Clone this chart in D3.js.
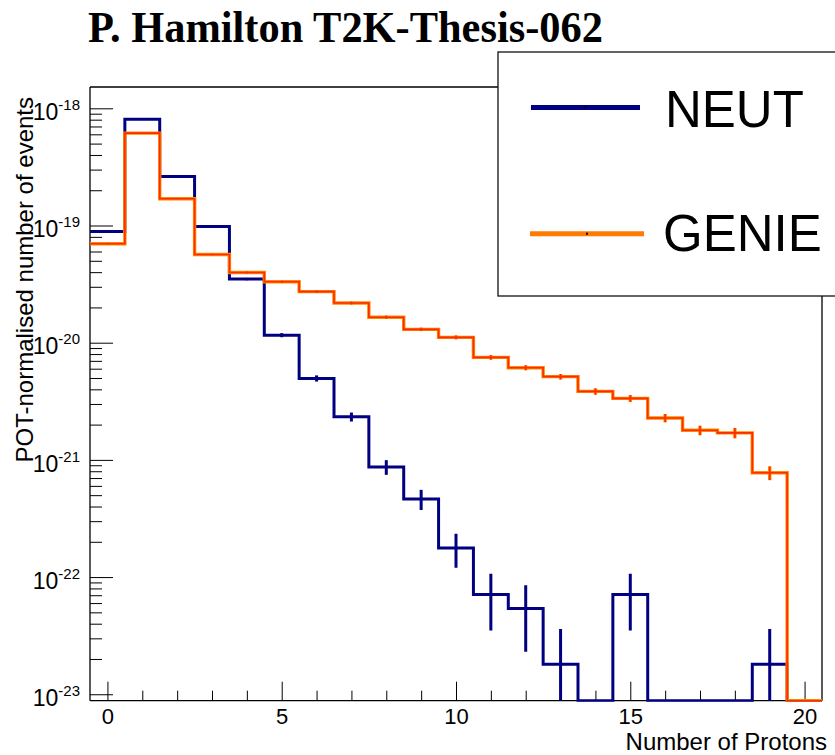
<!DOCTYPE html>
<html>
<head>
<meta charset="utf-8">
<script src="https://cdn.jsdelivr.net/npm/d3@7"></script>
<style>
  html, body { margin: 0; padding: 0; background: #fff; }
  svg { display: block; }
</style>
</head>
<body>
<svg id="chart" width="835" height="755"></svg>
<script>
// ---------------- data ----------------
const bins = [0,1,2,3,4,5,6,7,8,9,10,11,12,13,14,15,16,17,18,19,20];
const neut = [8.9e-20, 8.05e-19, 2.62e-19, 9.8e-20, 3.49e-20, 1.16e-20, 4.96e-21, 2.33e-21, 8.7e-22, 4.64e-22,
              1.77e-22, 7.1e-23, 5.4e-23, 1.8e-23, 0, 7.1e-23, 0, 0, 0, 1.8e-23, 0];
const neutErr = [1.3e-21, 3.8e-21, 2.2e-21, 1.3e-21, 7.9e-22, 4.6e-22, 3.0e-22, 2.05e-22, 1.25e-22, 9.1e-23,
                 5.7e-23, 3.6e-23, 3.1e-23, 1.8e-23, 0, 3.6e-23, 0, 0, 0, 1.8e-23, 0];
const genie = [6.98e-20, 6.14e-19, 1.69e-19, 5.66e-20, 3.97e-20, 3.31e-20, 2.73e-20, 2.18e-20, 1.65e-20, 1.30e-20,
               1.11e-20, 7.5e-21, 6.12e-21, 5.13e-21, 3.84e-21, 3.35e-21, 2.28e-21, 1.79e-21, 1.70e-21, 7.76e-22, 0];
const genieErr = [1.0e-21, 3.0e-21, 1.6e-21, 9.2e-22, 7.7e-22, 7.0e-22, 6.4e-22, 5.7e-22, 5.0e-22, 4.4e-22,
                  4.1e-22, 3.35e-22, 3.0e-22, 2.77e-22, 2.4e-22, 2.24e-22, 1.85e-22, 1.64e-22, 1.7e-22, 1.04e-22, 0];
const xMajorTicks = [0, 5, 10, 15, 20];
const yMajorExponents = [-18, -19, -20, -21, -22, -23];
const seriesNames = ["NEUT", "GENIE"];
const titleText = "P. Hamilton T2K-Thesis-062";
const xTitle = "Number of Protons";
const yTitle = "POT-normalised number of events";

// ---------------- layout ----------------
const L = 90, R = 822, T = 87, B = 700.7;
const svg = d3.select("#chart");

const x = d3.scaleLinear().domain([-0.5, 20.5]).range([L, R]);
const y = d3.scaleLog().domain([Math.pow(10, -23.055), Math.pow(10, -17.818)]).range([B, T]);
const yy = v => v > 0 ? Math.min(B, Math.max(T, y(v))) : B;

const NEUT_COL = "#000080";
const GENIE_OUT = "#ff8a00";
const GENIE_IN = "#ff2a00";

// title
svg.append("text")
  .attr("x", 88).attr("y", 42)
  .attr("font-family", "Liberation Serif, 'Times New Roman', serif")
  .attr("font-weight", "bold")
  .attr("font-size", 44)
  .attr("textLength", 515)
  .attr("lengthAdjust", "spacingAndGlyphs")
  .attr("fill", "#000")
  .text(titleText);

// ---------- axes ----------
const minorY = [];
for (let e = -24; e <= -18; e++) {
  for (let m = 2; m <= 9; m++) {
    const v = m * Math.pow(10, e);
    if (v >= 1e-23 && v <= y.domain()[1]) minorY.push(v);
  }
}
const majorY = yMajorExponents.map(e => Math.pow(10, e));

const gY = svg.append("g").attr("transform", `translate(${L},0)`);
gY.call(d3.axisLeft(y).tickValues(majorY).tickSize(-23).tickFormat(""));
gY.append("g").call(d3.axisLeft(y).tickValues(minorY).tickSize(-12).tickFormat(""));
gY.selectAll(".domain").remove();
gY.selectAll("line").attr("stroke", "#000").attr("stroke-width", 1);

const gX = svg.append("g").attr("transform", `translate(0,${B})`);
const minorX = d3.range(0, 21).filter(v => !xMajorTicks.includes(v));
gX.call(d3.axisBottom(x).tickValues(xMajorTicks).tickSize(-19).tickPadding(8).tickFormat(d3.format("d")));
gX.append("g").call(d3.axisBottom(x).tickValues(minorX).tickSize(-10).tickFormat(""));
gX.selectAll(".domain").remove();
gX.selectAll("line").attr("stroke", "#000").attr("stroke-width", 1);
gX.selectAll("text")
  .attr("font-family", "Liberation Sans, Arial, sans-serif")
  .attr("font-size", 22).attr("fill", "#000");

// y labels 10^n
yMajorExponents.forEach(e => {
  const t = svg.append("text")
    .attr("x", 80).attr("y", y(Math.pow(10, e)) + 11.7)
    .attr("text-anchor", "end")
    .attr("font-family", "Liberation Sans, Arial, sans-serif")
    .attr("font-size", 23).attr("fill", "#000");
  t.append("tspan").text("10");
  t.append("tspan").attr("dy", -10).attr("font-size", 15).text(String(e));
});

// frame
svg.append("path")
  .attr("d", `M${L},${T}H${R}V${B}`)
  .attr("fill", "none").attr("stroke", "#000").attr("stroke-width", 1.3);
svg.append("line").attr("x1", L).attr("x2", L).attr("y1", T).attr("y2", B)
  .attr("stroke", "#000").attr("stroke-width", 1.3);
svg.append("line").attr("x1", L).attr("x2", R).attr("y1", B).attr("y2", B)
  .attr("stroke", "#000").attr("stroke-width", 1.3);

// axis titles
svg.append("text")
  .attr("transform", "translate(33,97) rotate(-90)")
  .attr("text-anchor", "end")
  .attr("font-family", "Liberation Sans, Arial, sans-serif")
  .attr("font-size", 24).attr("fill", "#000")
  .text(yTitle);
svg.append("text")
  .attr("x", 827).attr("y", 750)
  .attr("text-anchor", "end")
  .attr("font-family", "Liberation Sans, Arial, sans-serif")
  .attr("font-size", 24).attr("fill", "#000")
  .text(xTitle);

// ---------- histograms ----------
function stepPoints(vals) {
  const pts = [];
  bins.forEach((b, i) => { pts.push([b - 0.5, vals[i]]); pts.push([b + 0.5, vals[i]]); });
  return pts;
}
const line = d3.line().x(d => x(d[0])).y(d => yy(d[1]));

function errorBars(g, vals, errs, color, width) {
  g.selectAll(null).data(bins.filter((b, i) => vals[i] > 0 && errs[i] > 0))
    .join("line")
    .attr("x1", b => x(b)).attr("x2", b => x(b))
    .attr("y1", b => yy(vals[b] + errs[b]))
    .attr("y2", b => (vals[b] - errs[b]) > 0 ? yy(vals[b] - errs[b]) : B)
    .attr("stroke", color).attr("stroke-width", width);
}

const clipId = "plotclip";
svg.append("clipPath").attr("id", clipId).append("rect")
  .attr("x", L).attr("y", T - 2).attr("width", R - L + 2).attr("height", B - T + 3);

const gN = svg.append("g").attr("clip-path", `url(#${clipId})`);
gN.append("path").attr("d", line(stepPoints(neut)))
  .attr("fill", "none").attr("stroke", NEUT_COL).attr("stroke-width", 3);
errorBars(gN, neut, neutErr, NEUT_COL, 3);

const gG = svg.append("g").attr("clip-path", `url(#${clipId})`);
gG.append("path").attr("d", line(stepPoints(genie)))
  .attr("fill", "none").attr("stroke", GENIE_OUT).attr("stroke-width", 3.4);
errorBars(gG, genie, genieErr, GENIE_OUT, 3.4);
gG.append("path").attr("d", line(stepPoints(genie)))
  .attr("fill", "none").attr("stroke", GENIE_IN).attr("stroke-width", 1.6);
errorBars(gG, genie, genieErr, GENIE_IN, 1.6);

// ---------- legend ----------
const lg = svg.append("g");
lg.append("rect").attr("x", 498).attr("y", 52).attr("width", 400).attr("height", 244)
  .attr("fill", "#fff").attr("stroke", "#111").attr("stroke-width", 1.3);
const legendItems = [
  { name: seriesNames[0], color: NEUT_COL, x1: 531, x2: 640, y: 107.5, tx: 665, ty: 127 },
  { name: seriesNames[1], color: "#ff7a00", x1: 530, x2: 644, y: 233.7, tx: 663, ty: 251 }
];
legendItems.forEach(it => {
  lg.append("line").attr("x1", it.x1).attr("x2", it.x2).attr("y1", it.y).attr("y2", it.y)
    .attr("stroke", it.color).attr("stroke-width", 5);
  lg.append("rect").attr("x", (it.x1 + it.x2) / 2 - 1).attr("y", it.y - 1).attr("width", 2).attr("height", 2)
    .attr("fill", "#000");
  lg.append("text").attr("x", it.tx).attr("y", it.ty)
    .attr("font-family", "Liberation Sans, Arial, sans-serif")
    .attr("font-size", 51).attr("fill", "#000")
    .text(it.name);
});
</script>
</body>
</html>
